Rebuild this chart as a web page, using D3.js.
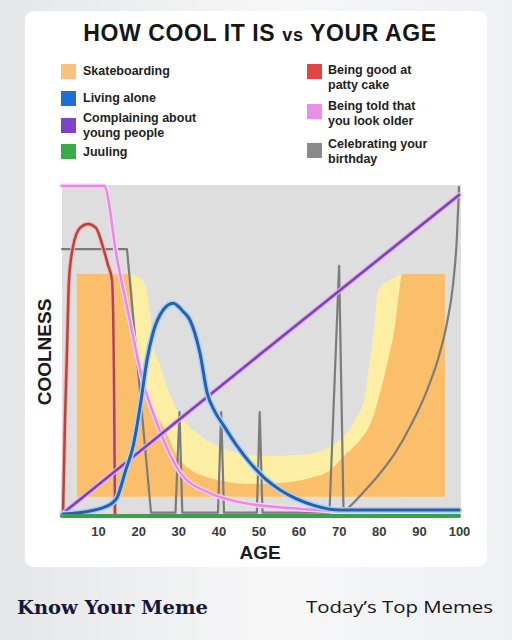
<!DOCTYPE html>
<html lang="en">
<head>
<meta charset="utf-8">
<title>How cool it is vs your age</title>
<script src="https://cdn.jsdelivr.net/npm/d3@7"></script>
<style>
  body{margin:0;}
  svg{display:block;font-family:"Liberation Sans",Arial,sans-serif;}
</style>
</head>
<body>
<svg id="chart" width="512" height="640"></svg>
<script>
// ---- data (age, coolness 0-100) ----
var xTicks = [10,20,30,40,50,60,70,80,90,100]

var skateBase = 5.8
var skateOuterAge = [4.7,18.0,19.2,21.2,26.7,30.4,37.9,47.9,55.4,62.8,67.8,71.6,75.3,78.3,80.3,82.3,84.0,85.3,85.8,96.5]
var skateOuter    = [73.3,73.3,57.3,41.2,26.1,17.0,11.5,9.7,10.0,11.5,13.9,18.5,23.0,29.1,37.3,47.3,57.3,70.0,73.3,73.3]
var skateInnerAge = [18.0,21.2,22.9,23.7,25.4,27.2,30.4,35.4,42.2,50.4,60.4,67.8,70.3,74.1,76.6,77.8,79.1,79.8,82.8,85.8]
var skateInner    = [73.3,71.2,62.4,52.4,45.8,39.1,30.6,24.5,20.0,18.2,18.5,20.9,23.0,29.1,36.7,47.3,59.4,68.5,71.5,73.3]

// spikes first, then the smooth climb after 71.2
var birthdayAge  = [1,17.2,23.2,29.3,30.3,31.0,39.9,40.7,41.4,49.6,50.3,51.0,67.7,70.1,71.2,72.3,76,80,84,88,92,95,97,98.5,99.5,100]
var birthdayCool = [80.9,80.9,1,1,31.5,1,1,31.5,1,1,31.5,1,1,75.8,1.5,2.4,7.0,12.5,19.0,27.5,38.0,48.5,58.5,70,85,99.7]

var olderAge  = [1,11.5,14.7,18.0,21.2,24.4,27.2,30.4,37.2,45.4,57.9,70.3,100]
var olderCool = [100,100,78.2,58.8,40.6,29.1,20.6,13.3,7.3,4.2,2.4,1.5,1.2]

var pattyAge  = [1.25,1.75,2.25,2.75,3.74,5.49,7.48,9.48,11.22,12.47,13.47,13.97,14.21]
var pattyCool = [0.6,29.1,50.3,71.5,81.5,87.3,88.5,87.3,81.5,76.1,71.5,41.2,0.6]

var complainAge  = [1,50.4,100]
var complainCool = [0.6,49.0,97.3]

var aloneAge  = [1.25,8,12.2,13.5,14.7,16.9,18.7,20.5,22.2,23.7,26.2,28.7,31.2,32.9,35.4,37.2,39.2,41.2,44.5,47.9,51.5,55.4,59.5,63.6,70.3,100]
var aloneCool = [0.6,1.5,3.0,3.9,5.5,13.9,20.9,33.3,47.3,55.5,62.4,64.5,62.0,59.4,49.4,37.3,31.5,27.6,21.5,16.1,11.5,7.9,5.2,3.3,1.8,1.8]

var juulAge  = [1,100]
var juulCool = [0,0]

var legendLeft  = [["Skateboarding"],["Living alone"],["Complaining about","young people"],["Juuling"]]
var legendLeftColors = ["#f8c27c","#1d6fd6","#7c45c8","#3aab47"]
var legendRight = [["Being good at","patty cake"],["Being told that","you look older"],["Celebrating your","birthday"]]
var legendRightColors = ["#e04443","#ec8fe8","#8a8a8a"]

// ---- drawing ----
var W = 512, H = 640
var svg = d3.select("#chart")

var defs = svg.append("defs")
var grad = defs.append("linearGradient").attr("id","bg").attr("x1","0").attr("x2","1").attr("y1","0").attr("y2","0")
grad.append("stop").attr("offset","0").attr("stop-color","#e5e6e8")
grad.append("stop").attr("offset","0.55").attr("stop-color","#f7f7f8")
grad.append("stop").attr("offset","1").attr("stop-color","#eef0f4")

svg.append("rect").attr("width",W).attr("height",H).attr("fill","url(#bg)")
svg.append("rect").attr("x",25).attr("y",11).attr("width",462).attr("height",556).attr("rx",9).attr("fill","#ffffff")

var x = d3.scaleLinear().domain([1,100]).range([62,459])
var y = d3.scaleLinear().domain([0,100]).range([516,186])

// title
var title = svg.append("text").attr("x",260).attr("y",41).attr("text-anchor","middle")
  .attr("font-weight","bold").attr("fill","#161616").attr("font-size",23).attr("letter-spacing",0.6)
title.append("tspan").text("HOW COOL IT IS ")
title.append("tspan").attr("font-size",18).text("vs")
title.append("tspan").text(" YOUR AGE")

// legend
var leftSq = [64,91,118,144], leftTxt = [71,98,118,152]
var rightSq = [64,104,143], rightTxt = [70,106,144]

function legendCol(labels,colors,sqY,txtY,sx,tx){
  labels.forEach(function(lines,i){
    svg.append("rect").attr("x",sx).attr("y",sqY[i]).attr("width",15).attr("height",15).attr("fill",colors[i])
    var t = svg.append("text").attr("font-weight","bold").attr("font-size",12.5).attr("fill","#222")
    lines.forEach(function(l,j){
      t.append("tspan").attr("x",tx).attr("y",txtY[i]+j*15).attr("dy","0.35em").text(l)
    })
  })
}
legendCol(legendLeft,legendLeftColors,leftSq,leftTxt,61,83)
legendCol(legendRight,legendRightColors,rightSq,rightTxt,307,328)

// plot background
svg.append("rect").attr("x",x(1)).attr("y",y(100)-1)
  .attr("width",x(100)-x(1)+2).attr("height",y(0)-y(100)+1).attr("fill","#dedede")

// skateboarding band
var skateArea = d3.area().x(function(d){return x(d[0])}).y0(y(skateBase)).y1(function(d){return y(d[1])})
  .curve(d3.curveMonotoneX)
svg.append("path").datum(d3.zip(skateInnerAge,skateInner)).attr("d",skateArea).attr("fill","#fcefa3")
svg.append("path").datum(d3.zip(skateOuterAge,skateOuter)).attr("d",skateArea).attr("fill","#fbbf6c")

function drawLine(pts,color,w,halo,hw,curve){
  var line = d3.line().x(function(d){return x(d[0])}).y(function(d){return y(d[1])}).curve(curve)
  if(halo){
    svg.append("path").datum(pts).attr("d",line).attr("fill","none").attr("stroke",halo)
      .attr("stroke-width",hw).attr("stroke-linejoin","round").attr("stroke-linecap","round")
  }
  svg.append("path").datum(pts).attr("d",line).attr("fill","none").attr("stroke",color)
    .attr("stroke-width",w).attr("stroke-linejoin","round").attr("stroke-linecap","round")
}

var bday = d3.zip(birthdayAge,birthdayCool)
var split = birthdayAge.indexOf(71.2)
drawLine(bday.slice(0,split+1),"#7c7c7c",2.2,null,0,d3.curveLinear)
drawLine(bday.slice(split),"#7c7c7c",2.2,null,0,d3.curveMonotoneX)
drawLine(d3.zip(olderAge,olderCool),"#e68ae2",2.5,"#f9d6f6",5,d3.curveMonotoneX)
drawLine(d3.zip(pattyAge,pattyCool),"#b8443f",2.5,"#f4b4b2",4.5,d3.curveMonotoneX)
drawLine(d3.zip(complainAge,complainCool),"#7a44b5",2.6,"#e2b0f5",5,d3.curveLinear)
drawLine(d3.zip(aloneAge,aloneCool),"#2c5ea9",3,"#a3d3f9",6,d3.curveMonotoneX)
drawLine(d3.zip(juulAge,juulCool),"#3e9e4c",4,null,0,d3.curveLinear)

// axis
var ax = svg.append("g").attr("transform","translate(0,"+y(0)+")")
  .call(d3.axisBottom(x).tickValues(xTicks).tickSize(0).tickPadding(11))
ax.select(".domain").remove()
ax.selectAll("text").attr("font-family","Liberation Sans, Arial, sans-serif")
  .attr("font-size",13).attr("font-weight","bold").attr("fill","#3a3a3a")

svg.append("text").attr("x",260).attr("y",559).attr("text-anchor","middle")
  .attr("font-weight","bold").attr("font-size",19).attr("fill","#1b1b1b").text("AGE")
svg.append("text").attr("transform","translate(51,352) rotate(-90)").attr("text-anchor","middle")
  .attr("font-weight","bold").attr("font-size",19).attr("fill","#1b1b1b").text("COOLNESS")

// footer
svg.append("text").attr("x",17).attr("y",614).attr("font-family","DejaVu Serif, serif")
  .attr("font-weight","bold").attr("font-size",18).attr("fill","#141936")
  .attr("textLength",191).attr("lengthAdjust","spacingAndGlyphs").text("Know Your Meme")
svg.append("text").attr("x",306).attr("y",613).attr("font-family","Open Sans, sans-serif")
  .attr("font-size",17).attr("fill","#151515")
  .attr("textLength",187).attr("lengthAdjust","spacingAndGlyphs").text("Today\u2019s Top Memes")
</script>
</body>
</html>
